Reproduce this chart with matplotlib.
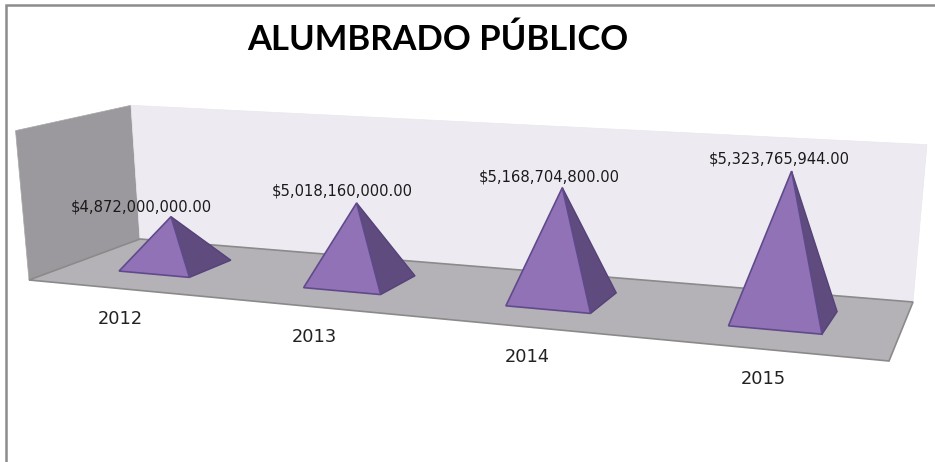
import matplotlib
matplotlib.use("Agg")
import matplotlib.pyplot as plt
import numpy as np

years = ["2012", "2013", "2014", "2015"]
values = [4872000000.0, 5018160000.0, 5168704800.0, 5323765944.0]
value_labels = ["$4,872,000,000.00", "$5,018,160,000.00", "$5,168,704,800.00", "$5,323,765,944.00"]
axis_min = 4600000000.0
axis_max = 5400000000.0

# corners of the 3d box as seen on screen, in pixels
floor_corners = [(29, 280), (889, 361), (913, 302), (140, 239)]  # front left, front right, back right, back left
vanish = np.array([476.0, 5236.0])  # vertical lines meet here
wall_h = [150.0, 176.0, 158.0, 134.0]  # wall height at the same corners

# nudges for the data labels, relative to the tip of each pyramid
label_dx = [-30, -14, -13, -12]
label_dy = [-10, -12, -11, -12]


def make_homography(pts):
    src = [(0, 0), (1, 0), (1, 1), (0, 1)]
    a, b = [], []
    for (u, w), (x, y) in zip(src, pts):
        a.append([u, w, 1, 0, 0, 0, -u * x, -w * x])
        a.append([0, 0, 0, u, w, 1, -u * y, -w * y])
        b += [x, y]
    return np.append(np.linalg.solve(np.array(a, float), np.array(b, float)), 1.0).reshape(3, 3)


H = make_homography(floor_corners)


def floor_pt(u, w):
    p = H @ np.array([u, w, 1.0])
    return p[:2] / p[2]


def lift(u, w, frac):
    # point at a fraction of the value axis above floor position u, w
    base = floor_pt(u, w)
    front = wall_h[0] + (wall_h[1] - wall_h[0]) * u
    back = wall_h[3] + (wall_h[2] - wall_h[3]) * u
    h = (front + (back - front) * w) * frac
    d = base - vanish
    return base + d / np.hypot(*d) * h


fig = plt.figure(figsize=(9.35, 4.62), dpi=100)
ax = fig.add_axes([0, 0, 1, 1])
ax.set_xlim(0, 935)
ax.set_ylim(462, 0)
ax.axis("off")

# outer frame, only top and left show
ax.plot([6, 6, 935], [462, 5, 5], color="#8c8c8c", lw=1.8, solid_joinstyle="miter")

# walls and floor
left_wall = [lift(0, 0, 0), lift(0, 0, 1), lift(0, 1, 1), lift(0, 1, 0)]
back_wall = [lift(0, 1, 0), lift(0, 1, 1), lift(1, 1, 1), lift(1, 1, 0)]
floor = [floor_pt(0, 0), floor_pt(1, 0), floor_pt(1, 1), floor_pt(0, 1)]
ax.add_patch(plt.Polygon(left_wall, fc="#9b999d", ec="#a8a8a8", lw=0.5))
ax.add_patch(plt.Polygon(back_wall, fc="#edebf1", ec="#e9e7ed", lw=0.5))
ax.add_patch(plt.Polygon(floor, fc="#b4b2b6", ec="#8a8a8a", lw=1.2))

half_u = 0.049
for i, v in enumerate(values):
    u = (i + 0.5) / len(values)
    frac = (v - axis_min) / (axis_max - axis_min)
    apex = lift(u, 0.5, frac)
    fl = floor_pt(u - half_u, 0.31)
    fr = floor_pt(u + half_u, 0.31)
    br = floor_pt(u + half_u + 0.002, 0.71)
    ax.add_patch(plt.Polygon([apex, fr, br], fc="#5f4b7d", ec="#54427a", lw=1, zorder=3))
    ax.add_patch(plt.Polygon([apex, fl, fr], fc="#9272b6", ec="#5f4b8b", lw=1.2, zorder=4))
    ax.text(apex[0] + label_dx[i], apex[1] + label_dy[i], value_labels[i], ha="center", va="center",
            fontsize=10.6, color="#1a1a1a", zorder=5)
    lab = floor_pt(u, 0)
    ax.text(lab[0] + 1.5, lab[1] + 30.5, years[i], ha="center", va="center",
            fontsize=12.8, color="#222222")

ax.text(437.5, 40, "ALUMBRADO PÚBLICO", ha="center", va="center", family="Lato",
        weight="bold", fontsize=24.9, color="black")

fig.savefig("out.png", dpi=100)
